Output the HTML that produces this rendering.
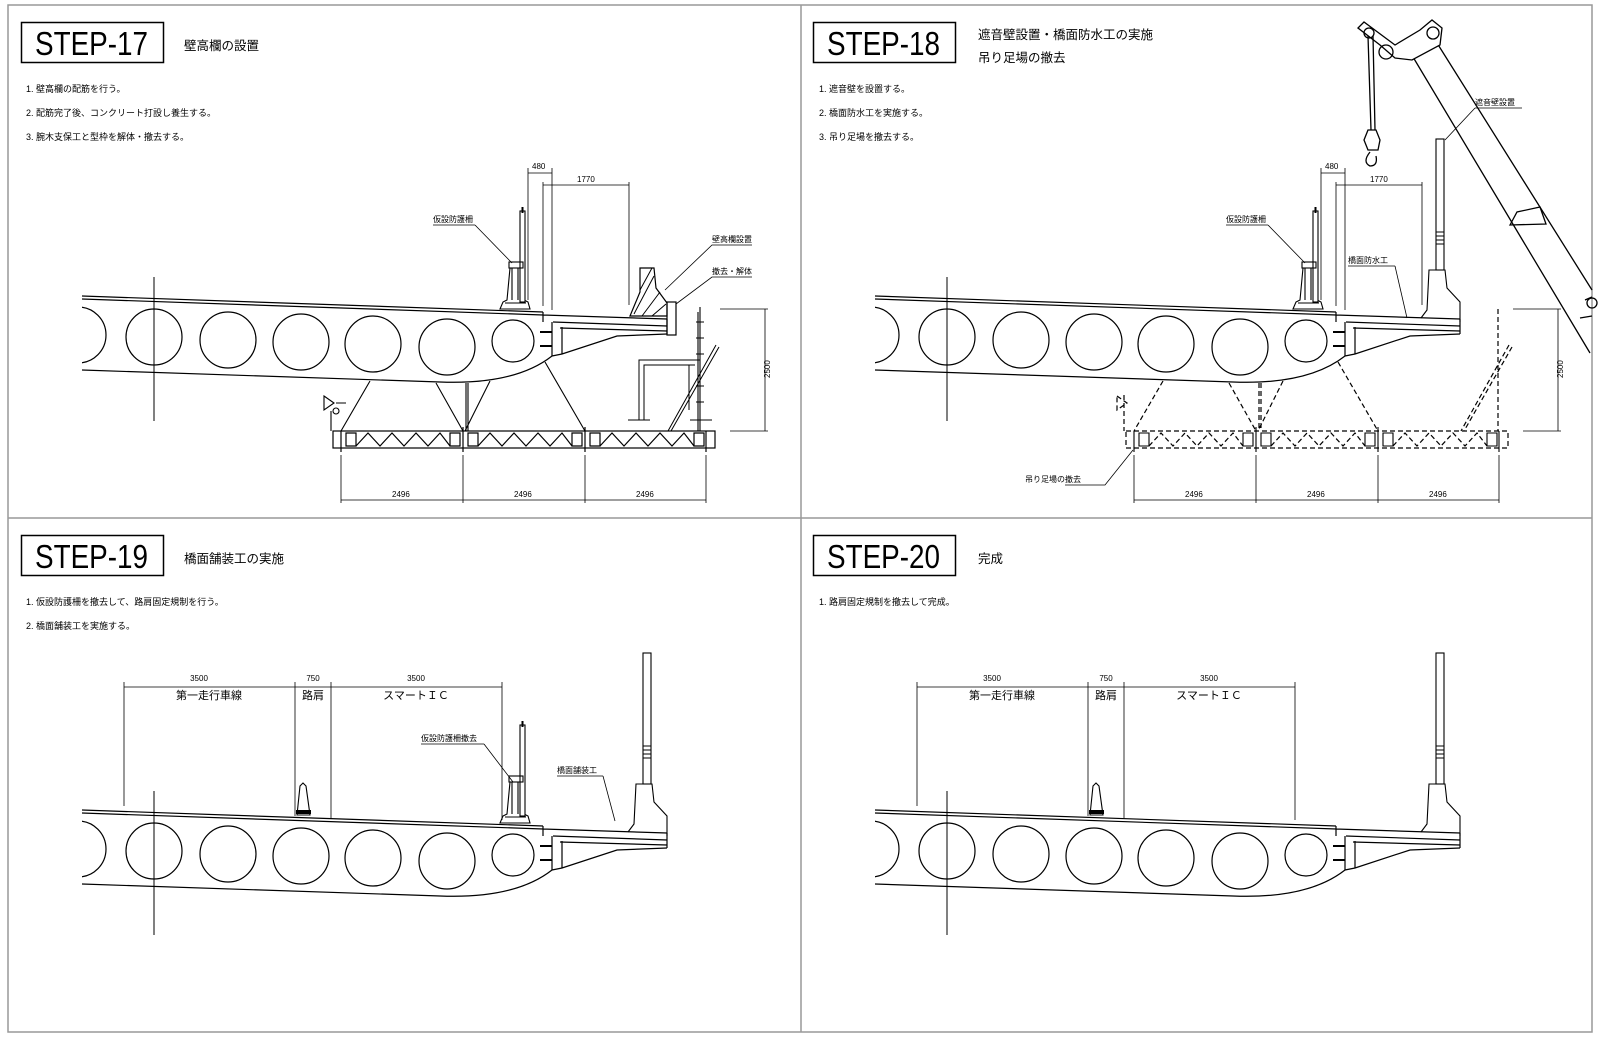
<!DOCTYPE html>
<html><head><meta charset="utf-8"><style>
html,body{margin:0;padding:0;background:#fff;}
svg{display:block;}
text{font-family:"Liberation Sans","Noto Sans CJK JP",sans-serif;fill:#000;}
.n{font-size:9px;}
.d{font-size:8px;}
.t{font-size:12.5px;}
.s{font-size:33px;}
</style></head><body>
<svg width="1600" height="1042" viewBox="0 0 1600 1042" xmlns="http://www.w3.org/2000/svg">
<defs>
<clipPath id="gc"><rect x="82" y="250" width="700" height="200"/></clipPath>
<g id="girder" fill="none" stroke="#000" stroke-width="1.2">
 <path d="M82,296 L543,312 M82,299 L543,315"/>
 <path d="M543,312 V322 M543,315 L667,319 M553,322 L667,326 M667,319 V334 M560,328 L667,331"/>
 <path d="M552,322 V356 M562,327 V354 M552,356 L562,354 L617,336 L667,334"/>
 <path d="M82,370 L440,382 Q515,385 552,356"/>
 <path d="M540,332 H552 M540,346 H552" stroke-width="2"/>
 <g clip-path="url(#gc)">
  <circle cx="78" cy="335" r="28"/>
  <circle cx="154" cy="337" r="28"/>
  <circle cx="228" cy="340" r="28"/>
  <circle cx="301" cy="342" r="28"/>
  <circle cx="373" cy="344" r="28"/>
  <circle cx="447" cy="347" r="28"/>
  <circle cx="513" cy="341" r="21"/>
 </g>
</g>
<g id="tbar" fill="none" stroke="#000" stroke-width="1.1">
 <path d="M500,309 L503,302 L507,300 L510,268 L521,268 L524,300 L528,302 L530,309 Z"/>
 <path d="M512,268 V300 M518,268 V300 M505,303 H526"/>
 <rect x="520" y="211" width="5" height="91" fill="#fff"/>
 <path d="M522.5,207 V213" stroke-width="2"/>
 <rect x="509" y="262" width="14" height="6"/>
</g>
<g id="sbar" fill="none" stroke="#000" stroke-width="1.1">
 <path d="M628,318 L634,310 L636,270 L652,270 L654,288 L667,302 L667,322"/>
 <rect x="643" y="139" width="8" height="131" fill="#fff"/>
 <path d="M643,232 H651 M643,236 H651 M643,240 H651 M643,244 H651"/>
</g>
<g id="truss" fill="none" stroke="#000" stroke-width="1.2">
 <rect x="333" y="431" width="382" height="17"/>
 <path d="M341,431 V452 M463,427 V452 M585,427 V452 M706,431 V452"/>
 <path d="M346,433 H356 V446 H346 Z M450,433 H460 V446 H450 Z M468,433 H478 V446 H468 Z M572,433 H582 V446 H572 Z M590,433 H600 V446 H590 Z M694,433 H704 V446 H694 Z"/>
 <path d="M356,446 L368,433 L380,446 L392,433 L404,446 L416,433 L428,446 L440,433 L450,446"/>
 <path d="M478,446 L490,433 L502,446 L514,433 L526,446 L538,433 L550,446 L562,433 L572,446"/>
 <path d="M600,446 L612,433 L624,446 L636,433 L648,446 L660,433 L672,446 L684,433 L694,446"/>
</g>
<g id="dims2" fill="none" stroke="#000" stroke-width="0.8">
 <path d="M341,455 V503 M463,455 V503 M585,455 V503 M706,455 V503 M341,500 H706"/>
</g>
</defs>

<!-- frame -->
<g fill="none" stroke="#999" stroke-width="1.5">
 <rect x="8" y="5" width="1584" height="1027"/>
 <path d="M801,5 V1032 M8,518 H1592"/>
</g>

<!-- ============ STEP 17 ============ -->
<rect x="21.5" y="22.5" width="142" height="40" fill="none" stroke="#000" stroke-width="1.5"/>
<text class="s" x="35" y="55" textLength="113" lengthAdjust="spacingAndGlyphs">STEP-17</text>
<text class="t" x="184" y="50">壁高欄の設置</text>
<text class="n" x="26" y="92">1.  壁高欄の配筋を行う。</text>
<text class="n" x="26" y="116">2.  配筋完了後、コンクリート打設し養生する。</text>
<text class="n" x="26" y="140">3.  腕木支保工と型枠を解体・撤去する。</text>
<use href="#girder"/>
<use href="#tbar"/>
<path d="M154,277 V421" stroke="#000" stroke-width="1"/>
<!-- wall balustrade -->
<g stroke="#000" fill="none" stroke-width="1.2">
 <path d="M630,316 L640,292 L640,268 L654,268 L656,288 L667,303 L667,316 Z"/>
 <path d="M634,314 L654,276 M642,316 L660,292 M652,316 L666,304 M640,290 L652,268" stroke-width="1"/>
 <rect x="667" y="302" width="9" height="33"/>
 <path d="M665,290 L712,245 H752 M676,304 L712,277 H752" stroke-width="0.8"/>
 <path d="M475,225 H433 M475,225 L512,263" stroke-width="0.8"/>
</g>
<text class="d" x="712" y="242">壁高欄設置</text>
<text class="d" x="712" y="274">撤去・解体</text>
<text class="d" x="433" y="222">仮設防護柵</text>
<!-- dims 480/1770 -->
<g fill="none" stroke="#000" stroke-width="0.8">
 <path d="M528,168 V300 M552,168 V310 M543,182 V306 M629,182 V305 M528,173 H552 M543,185 H629"/>
</g>
<text class="d" x="532" y="169">480</text>
<text class="d" x="577" y="182">1770</text>
<!-- scaffold -->
<use href="#truss"/>
<g fill="none" stroke="#000" stroke-width="1.1">
 <path d="M370,381 L341,431 M436,383 L463,431 M490,381 L465,431 M545,362 L585,431 M466,383 V431 M468,383 V431"/>
 <path d="M324,396 L334,403 L324,410 Z M336,403 H346 M331,411 V431"/>
 <circle cx="336" cy="411" r="3"/>
 <path d="M639,420 V360 H700 M644,420 V365 H695 M628,420 H650 M690,420 H712 M689,410 V365" stroke-width="1"/>
 <path d="M716,345 L668,431 M719,347 L671,431" stroke-width="1"/>
 <path d="M700,307 V431 M698,312 V431"/>
 <path d="M696,322 H704 M696,338 H704 M696,354 H704 M696,386 H704 M696,402 H704"/>
 <path d="M720,309 H768 M730,431 H768 M765,309 V431" stroke-width="0.8"/>
</g>
<text class="d" transform="translate(770,378) rotate(-90)">2500</text>
<use href="#dims2"/>
<text class="d" x="392" y="497">2496</text>
<text class="d" x="514" y="497">2496</text>
<text class="d" x="636" y="497">2496</text>

<!-- ============ STEP 18 ============ -->
<rect x="813.5" y="22.5" width="142" height="40" fill="none" stroke="#000" stroke-width="1.5"/>
<text class="s" x="827" y="55" textLength="113" lengthAdjust="spacingAndGlyphs">STEP-18</text>
<text class="t" x="978" y="39">遮音壁設置・橋面防水工の実施</text>
<text class="t" x="978" y="62">吊り足場の撤去</text>
<text class="n" x="819" y="92">1.  遮音壁を設置する。</text>
<text class="n" x="819" y="116">2.  橋面防水工を実施する。</text>
<text class="n" x="819" y="140">3.  吊り足場を撤去する。</text>
<g transform="translate(793,0)">
 <use href="#girder"/>
 <use href="#tbar"/>
 <use href="#sbar"/>
 <path d="M154,277 V421" stroke="#000" stroke-width="1"/>
 <g fill="none" stroke="#000" stroke-width="0.8">
  <path d="M528,168 V300 M552,168 V310 M543,182 V306 M629,182 V305 M528,173 H552 M543,185 H629"/>
  <path d="M475,225 H433 M475,225 L512,263"/>
  <path d="M602,266 H555 M602,266 L614,318"/>
  <path d="M720,309 H768 M730,431 H768 M765,309 V431"/>
 </g>
 <g fill="none" stroke="#000" stroke-width="1.2" stroke-dasharray="5,3">
  <rect x="333" y="431" width="382" height="17"/>
  <path d="M356,446 L368,433 L380,446 L392,433 L404,446 L416,433 L428,446 L440,433 L450,446 M478,446 L490,433 L502,446 L514,433 L526,446 L538,433 L550,446 L562,433 L572,446 M600,446 L612,433 L624,446 L636,433 L648,446 L660,433 L672,446 L684,433 L694,446"/>
  <path d="M370,381 L341,431 M436,383 L463,431 M490,381 L465,431 M545,362 L585,431 M466,383 V431 M468,383 V431"/>
  <path d="M716,345 L668,431 M719,347 L671,431 M705,309 V431"/>
  <path d="M324,396 L334,403 L324,410 Z M331,395 V431"/>
 </g>
 <path d="M346,433 H356 V446 H346 Z M450,433 H460 V446 H450 Z M468,433 H478 V446 H468 Z M572,433 H582 V446 H572 Z M590,433 H600 V446 H590 Z M694,433 H704 V446 H694 Z M341,431 V452 M463,427 V452 M585,427 V452 M706,431 V452" fill="none" stroke="#000" stroke-width="1.1"/>
 <path d="M340,450 L312,485 H272" fill="none" stroke="#000" stroke-width="0.8"/>
 <use href="#dims2"/>
 <text class="d" transform="translate(770,378) rotate(-90)">2500</text>
 <text class="d" x="532" y="169">480</text>
 <text class="d" x="577" y="182">1770</text>
 <text class="d" x="433" y="222">仮設防護柵</text>
 <text class="d" x="555" y="263">橋面防水工</text>
 <text class="d" x="232" y="482">吊り足場の撤去</text>
 <text class="d" x="392" y="497">2496</text>
 <text class="d" x="514" y="497">2496</text>
 <text class="d" x="636" y="497">2496</text>
</g>
<!-- crane -->
<g fill="none" stroke="#000" stroke-width="1.3">
 <path d="M1413,57 L1590,353 M1437,43 L1592,290"/>
 <path d="M1358,28 L1364,22 L1395,45 L1420,30 L1432,20 L1442,28 L1440,45 L1412,60 L1395,58 L1380,45 Z" fill="#fff"/>
 <circle cx="1369" cy="33" r="5"/>
 <circle cx="1433" cy="33" r="6"/>
 <circle cx="1386" cy="52" r="7"/>
 <path d="M1368,36 L1371,130 M1373,36 L1375,130"/>
 <path d="M1368,130 L1364,140 L1368,150 L1378,150 L1380,140 L1376,130 Z"/>
 <path d="M1370,152 Q1362,162 1370,166 Q1378,166 1376,156"/>
 <path d="M1510,225 L1517,212 L1540,207 L1546,224 Z"/>
 <path d="M1585,300 L1592,297 M1580,318 L1592,316"/>
 <circle cx="1592" cy="303" r="5"/>
 <path d="M1475,108 H1522 M1475,108 L1445,140" stroke-width="0.8"/>
</g>
<text class="d" x="1475" y="105">遮音壁設置</text>

<!-- ============ STEP 19 ============ -->
<rect x="21.5" y="535.5" width="142" height="40" fill="none" stroke="#000" stroke-width="1.5"/>
<text class="s" x="35" y="568" textLength="113" lengthAdjust="spacingAndGlyphs">STEP-19</text>
<text class="t" x="184" y="563">橋面舗装工の実施</text>
<text class="n" x="26" y="605">1.  仮設防護柵を撤去して、路肩固定規制を行う。</text>
<text class="n" x="26" y="629">2.  橋面舗装工を実施する。</text>
<g transform="translate(0,514)">
 <use href="#girder"/>
 <use href="#tbar"/>
 <use href="#sbar"/>
 <path d="M154,277 V421" stroke="#000" stroke-width="1"/>
 <g fill="none" stroke="#000" stroke-width="0.8">
  <path d="M124,168 V292 M295,168 V302 M331,168 V304 M502,168 V306 M124,173 H502"/>
  <path d="M484,230 H421 M484,230 L513,268"/>
  <path d="M603,262 H557 M603,262 L615,307"/>
 </g>
 <path d="M297,301 L300,272 L303,269 L306,272 L310,301 Z" fill="none" stroke="#000" stroke-width="1.1"/>
 <rect x="296" y="296" width="15" height="4" fill="#000"/>
 <text class="d" x="199" y="167" text-anchor="middle">3500</text>
 <text class="d" x="313" y="167" text-anchor="middle">750</text>
 <text class="d" x="416" y="167" text-anchor="middle">3500</text>
 <text class="t" x="209" y="185" text-anchor="middle" style="font-size:11px">第一走行車線</text>
 <text class="t" x="313" y="185" text-anchor="middle" style="font-size:11px">路肩</text>
 <text class="t" x="416" y="185" text-anchor="middle" style="font-size:11px">スマートＩＣ</text>
 <text class="d" x="421" y="227">仮設防護柵撤去</text>
 <text class="d" x="557" y="259">橋面舗装工</text>
</g>

<!-- ============ STEP 20 ============ -->
<rect x="813.5" y="535.5" width="142" height="40" fill="none" stroke="#000" stroke-width="1.5"/>
<text class="s" x="827" y="568" textLength="113" lengthAdjust="spacingAndGlyphs">STEP-20</text>
<text class="t" x="978" y="563">完成</text>
<text class="n" x="819" y="605">1.  路肩固定規制を撤去して完成。</text>
<g transform="translate(793,514)">
 <use href="#girder"/>
 <use href="#sbar"/>
 <path d="M154,277 V421" stroke="#000" stroke-width="1"/>
 <g fill="none" stroke="#000" stroke-width="0.8">
  <path d="M124,168 V292 M295,168 V302 M331,168 V304 M502,168 V306 M124,173 H502"/>
 </g>
 <path d="M297,301 L300,272 L303,269 L306,272 L310,301 Z" fill="none" stroke="#000" stroke-width="1.1"/>
 <rect x="296" y="296" width="15" height="4" fill="#000"/>
 <text class="d" x="199" y="167" text-anchor="middle">3500</text>
 <text class="d" x="313" y="167" text-anchor="middle">750</text>
 <text class="d" x="416" y="167" text-anchor="middle">3500</text>
 <text class="t" x="209" y="185" text-anchor="middle" style="font-size:11px">第一走行車線</text>
 <text class="t" x="313" y="185" text-anchor="middle" style="font-size:11px">路肩</text>
 <text class="t" x="416" y="185" text-anchor="middle" style="font-size:11px">スマートＩＣ</text>
</g>
</svg>
</body></html>
